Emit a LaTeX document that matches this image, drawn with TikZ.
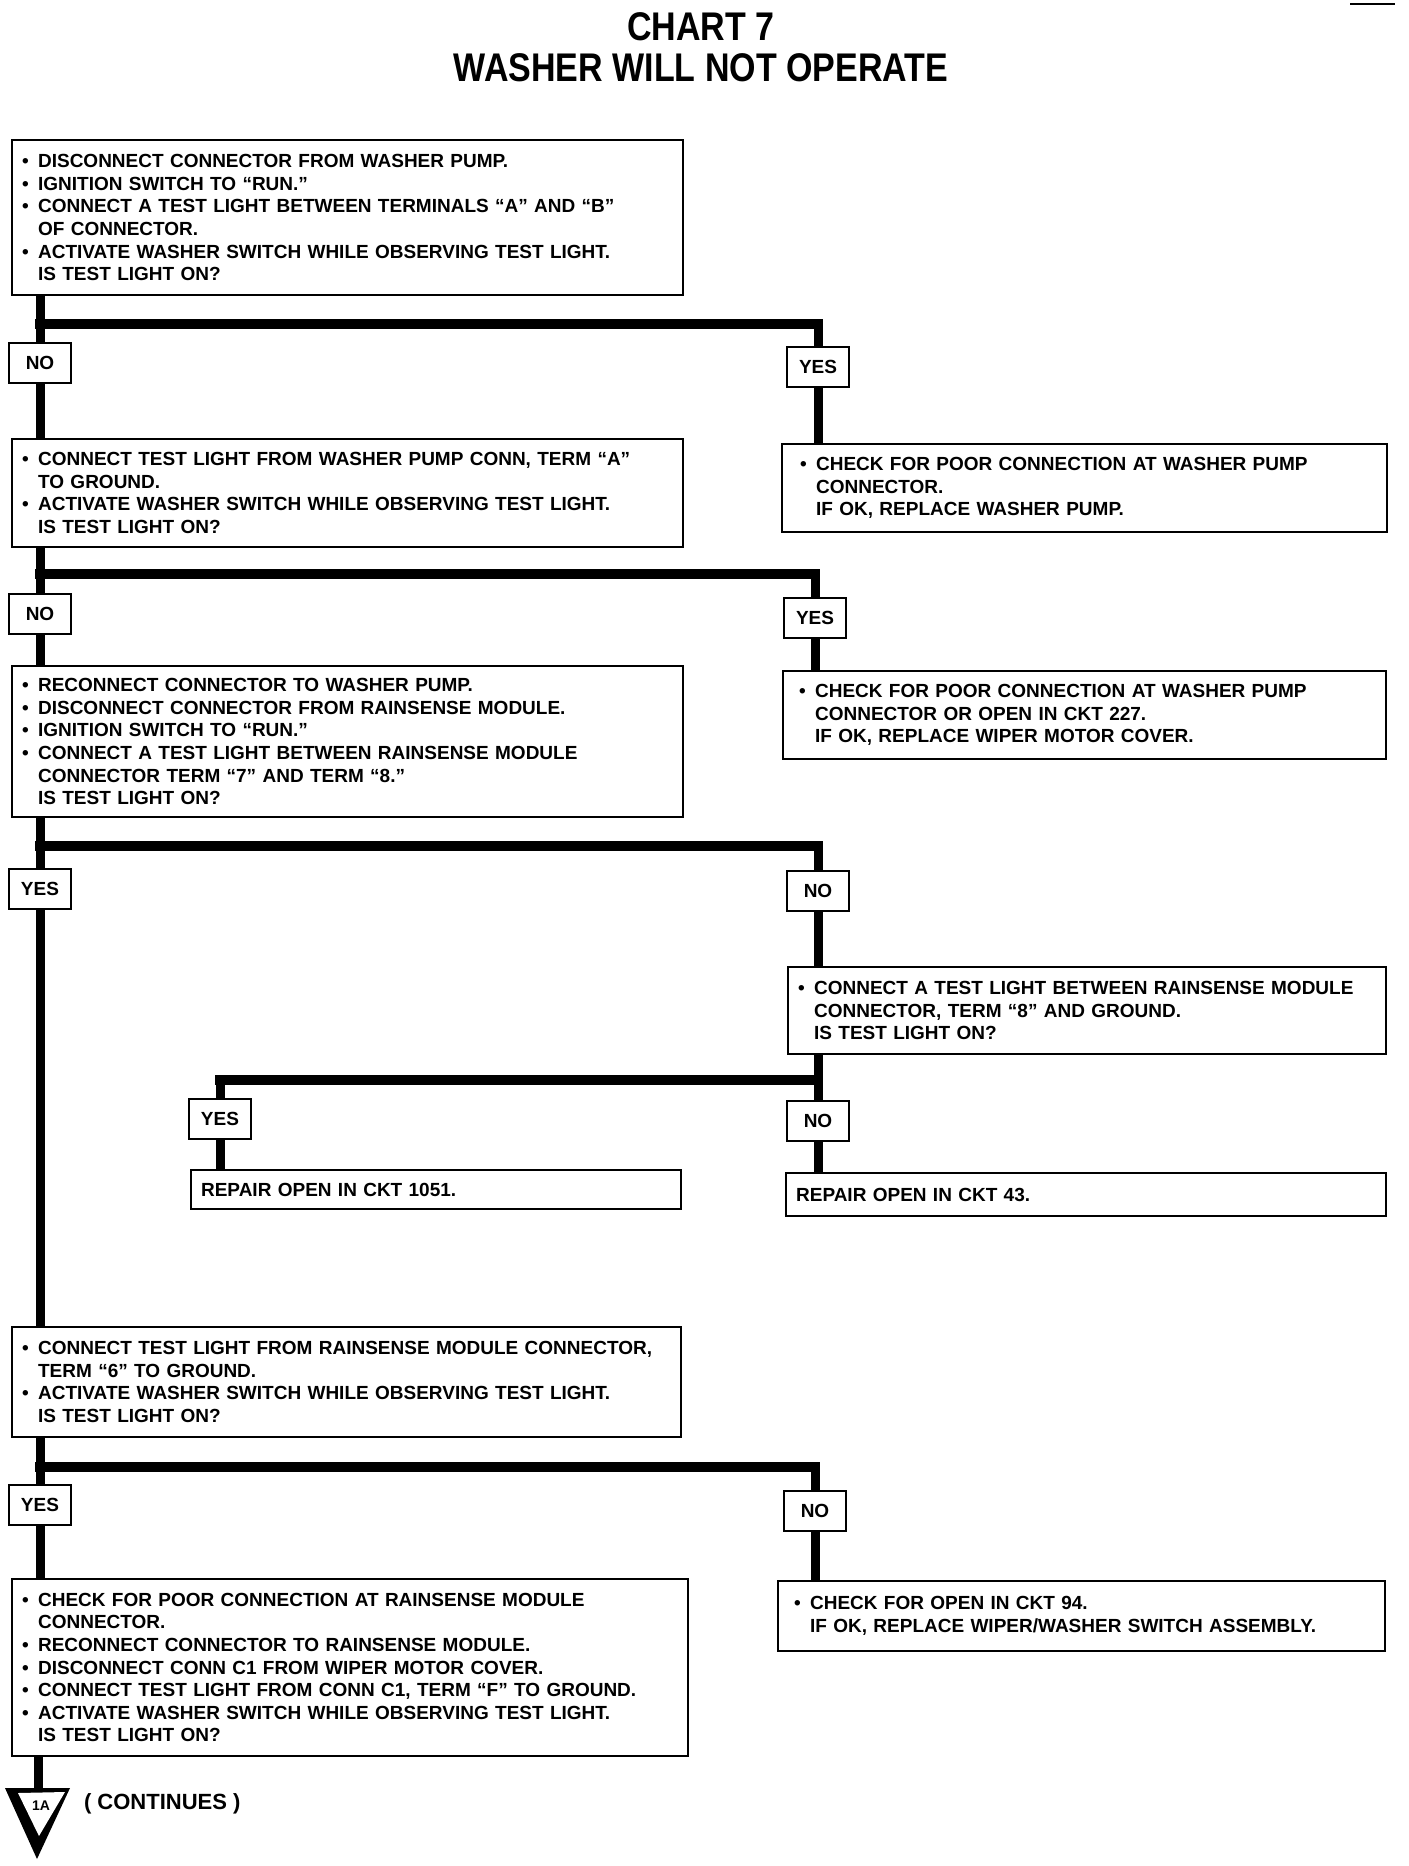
\documentclass[tikz,border=0pt]{standalone}
\usepackage{fontspec}
\setmainfont{Liberation Sans}
\newfontfamily\titlefont[FakeStretch=0.85]{Liberation Sans}
\usetikzlibrary{positioning}

\newcommand{\bul}{\makebox[8pt][l]{\textbullet}}
\newcommand{\ind}{\hspace*{8pt}}

\begin{document}
\begin{tikzpicture}[
  x=0.5pt, y=-0.5pt,
  box/.style={draw, line width=1.1pt, fill=white, anchor=north west, align=left,
              inner xsep=5pt, inner ysep=2pt, font=\fontsize{9.5}{11.3}\selectfont\bfseries},
  tag/.style={draw, line width=1.1pt, fill=white, minimum width=31pt, minimum height=20pt,
              inner sep=1pt, font=\fontsize{9.5}{11}\selectfont\bfseries},
  vbar/.style={line width=4.5pt},
  hbar/.style={line width=5pt, line cap=rect}
]
\useasboundingbox (0,0) rectangle (1408,1866);

%% Title
\node[font=\titlefont\fontsize{20}{24}\selectfont\bfseries] (ttl1) at (701,27) {CHART 7};
\node[font=\titlefont\fontsize{20}{24}\selectfont\bfseries] (ttl2) at (701,68) {WASHER WILL NOT OPERATE};
\draw[line width=0.6pt] (1350,4) -- (1395,4);

%% Step 1
\node[box, minimum width=335.5pt, minimum height=77.5pt, text width=325.5pt] (b1) at (11,139)
  {\bul DISCONNECT CONNECTOR FROM WASHER PUMP.\\
   \bul IGNITION SWITCH TO “RUN.”\\
   \bul CONNECT A TEST LIGHT BETWEEN TERMINALS “A” AND “B”\\
   \ind OF CONNECTOR.\\
   \bul ACTIVATE WASHER SWITCH WHILE OBSERVING TEST LIGHT.\\
   \ind IS TEST LIGHT ON?};
\coordinate (j1) at (40,324);
\node[tag] (lb1no) at (40,363) {NO};
\node[tag] (lb1yes) at (818,367) {YES};

%% Step 2
\node[box, minimum width=335.5pt, minimum height=54pt, text width=325.5pt] (b2) at (11,438)
  {\bul CONNECT TEST LIGHT FROM WASHER PUMP CONN, TERM “A”\\
   \ind TO GROUND.\\
   \bul ACTIVATE WASHER SWITCH WHILE OBSERVING TEST LIGHT.\\
   \ind IS TEST LIGHT ON?};
\node[box, minimum width=302.5pt, minimum height=44pt, text width=284.5pt, inner xsep=9pt] (b2r) at (781,443)
  {\bul CHECK FOR POOR CONNECTION AT WASHER PUMP\\
   \ind CONNECTOR.\\
   \ind IF OK, REPLACE WASHER PUMP.};
\coordinate (j2) at (40,574);
\node[tag] (lb2no) at (40,614) {NO};
\node[tag] (lb2yes) at (815,618) {YES};

\draw[vbar] (b1.south -| lb1no) -- (lb1no.north);
\draw[vbar] (lb1no.south) -- (lb1no |- b2.north);
\draw[hbar] (j1) -- (j1 -| lb1yes);
\draw[vbar] (j1 -| lb1yes) -- (lb1yes.north);
\draw[vbar] (lb1yes.south) -- (lb1yes |- b2r.north);

%% Step 3
\node[box, minimum width=335.5pt, minimum height=75.5pt, text width=325.5pt] (b3) at (11,665)
  {\bul RECONNECT CONNECTOR TO WASHER PUMP.\\
   \bul DISCONNECT CONNECTOR FROM RAINSENSE MODULE.\\
   \bul IGNITION SWITCH TO “RUN.”\\
   \bul CONNECT A TEST LIGHT BETWEEN RAINSENSE MODULE\\
   \ind CONNECTOR TERM “7” AND TERM “8.”\\
   \ind IS TEST LIGHT ON?};
\node[box, minimum width=301.5pt, minimum height=44pt, text width=285.5pt, inner xsep=8pt] (b3r) at (782,670)
  {\bul CHECK FOR POOR CONNECTION AT WASHER PUMP\\
   \ind CONNECTOR OR OPEN IN CKT 227.\\
   \ind IF OK, REPLACE WIPER MOTOR COVER.};
\coordinate (j3) at (40,846);
\node[tag] (lb3yes) at (40,889) {YES};
\node[tag] (lb3no) at (818,891) {NO};

\draw[vbar] (b2.south -| lb2no) -- (lb2no.north);
\draw[vbar] (lb2no.south) -- (lb2no |- b3.north);
\draw[hbar] (j2) -- (j2 -| lb2yes);
\draw[vbar] (j2 -| lb2yes) -- (lb2yes.north);
\draw[vbar] (lb2yes.south) -- (lb2yes |- b3r.north);

%% Step 4 (right branch)
\node[box, minimum width=299pt, minimum height=43.5pt, text width=289pt] (b4) at (787,966)
  {\bul CONNECT A TEST LIGHT BETWEEN RAINSENSE MODULE\\
   \ind CONNECTOR, TERM “8” AND GROUND.\\
   \ind IS TEST LIGHT ON?};
\coordinate (j4) at (818,1080);
\node[tag] (lb4yes) at (220,1119) {YES};
\node[tag] (lb4no) at (818,1121) {NO};
\node[box, minimum width=245pt, minimum height=19.5pt, text width=235pt] (r1051) at (190,1169)
  {REPAIR OPEN IN CKT 1051.};
\node[box, minimum width=300pt, minimum height=21.5pt, text width=290pt] (r43) at (785,1172)
  {REPAIR OPEN IN CKT 43.};

\draw[hbar] (j3) -- (j3 -| lb3no);
\draw[vbar] (j3 -| lb3no) -- (lb3no.north);
\draw[vbar] (lb3no.south) -- (lb3no |- b4.north);
\draw[vbar] (b4.south -| j4) -- (lb4no.north);
\draw[vbar] (lb4no.south) -- (lb4no |- r43.north);
\draw[hbar] (j4) -- (j4 -| lb4yes);
\draw[vbar] (j4 -| lb4yes) -- (lb4yes.north);
\draw[vbar] (lb4yes.south) -- (lb4yes |- r1051.north);

%% Step 5
\node[box, minimum width=334.5pt, minimum height=55pt, text width=324.5pt] (b5) at (11,1326)
  {\bul CONNECT TEST LIGHT FROM RAINSENSE MODULE CONNECTOR,\\
   \ind TERM “6” TO GROUND.\\
   \bul ACTIVATE WASHER SWITCH WHILE OBSERVING TEST LIGHT.\\
   \ind IS TEST LIGHT ON?};
\coordinate (j5) at (40,1467);
\node[tag] (lb5yes) at (40,1505) {YES};
\node[tag] (lb5no) at (815,1511) {NO};

\draw[vbar] (b3.south -| lb3yes) -- (lb3yes.north);
\draw[vbar] (lb3yes.south) -- (lb3yes |- b5.north);

%% Step 6
\node[box, minimum width=338pt, minimum height=88.5pt, text width=328pt] (b6) at (11,1578)
  {\bul CHECK FOR POOR CONNECTION AT RAINSENSE MODULE\\
   \ind CONNECTOR.\\
   \bul RECONNECT CONNECTOR TO RAINSENSE MODULE.\\
   \bul DISCONNECT CONN C1 FROM WIPER MOTOR COVER.\\
   \bul CONNECT TEST LIGHT FROM CONN C1, TERM “F” TO GROUND.\\
   \bul ACTIVATE WASHER SWITCH WHILE OBSERVING TEST LIGHT.\\
   \ind IS TEST LIGHT ON?};
\node[box, minimum width=303.5pt, minimum height=35pt, text width=287.5pt, inner xsep=8pt] (b6r) at (777,1580)
  {\bul CHECK FOR OPEN IN CKT 94.\\
   \ind IF OK, REPLACE WIPER/WASHER SWITCH ASSEMBLY.};

\draw[vbar] (b5.south -| lb5yes) -- (lb5yes.north);
\draw[vbar] (lb5yes.south) -- (lb5yes |- b6.north);
\draw[hbar] (j5) -- (j5 -| lb5no);
\draw[vbar] (j5 -| lb5no) -- (lb5no.north);
\draw[vbar] (lb5no.south) -- (lb5no |- b6r.north);

%% Continuation marker
\coordinate (tri) at (38,1790);
\draw[vbar] (b6.south -| tri) -- (tri);
\fill (5,1788) -- (70,1788) -- (37,1859) -- cycle;
\fill[white] (18,1793) -- (65,1792) -- (39,1836) -- cycle;
\node[font=\fontsize{7}{8}\selectfont\bfseries] (tag1a) at (41,1806) {1A};
\node[font=\fontsize{11}{13}\selectfont\bfseries, anchor=west] (cont) at (77,1804) {( CONTINUES )};
\end{tikzpicture}
\end{document}
